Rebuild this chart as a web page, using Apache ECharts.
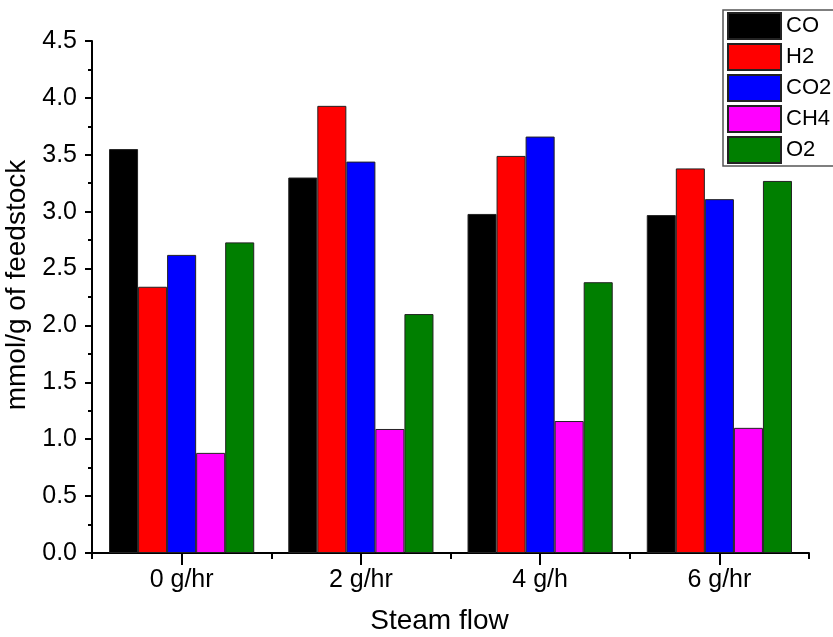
<!DOCTYPE html>
<html>
<head>
<meta charset="utf-8">
<script src="https://cdn.jsdelivr.net/npm/echarts@6/dist/echarts.min.js"></script>
<style>
html,body{margin:0;padding:0;background:#fff;}
#chart{width:833px;height:637px;}
</style>
</head>
<body>
<div id="chart"></div>
<script>
var categories = ['0 g/hr', '2 g/hr', '4 g/h', '6 g/hr'];
var seriesNames = ['CO', 'H2', 'CO2', 'CH4', 'O2'];
var CO  = [3.55, 3.30, 2.98, 2.97];
var H2  = [2.34, 3.93, 3.49, 3.38];
var CO2 = [2.62, 3.44, 3.66, 3.11];
var CH4 = [0.88, 1.09, 1.16, 1.10];
var O2  = [2.73, 2.10, 2.38, 3.27];
var seriesValues = [CO, H2, CO2, CH4, O2];
var colors = ['#000000', '#ff0000', '#0000ff', '#ff00ff', '#007f00'];
var yTicks = ['0.0','0.5','1.0','1.5','2.0','2.5','3.0','3.5','4.0','4.5'];

var FONT = '"Liberation Sans", Arial, sans-serif';
var chart = echarts.init(document.getElementById('chart'), null, {renderer: 'canvas'});

var series = seriesNames.map(function (n, i) {
  return {
    name: n,
    type: 'bar',
    xAxisIndex: 0,
    data: seriesValues[i],
    barGap: '0%',
    barCategoryGap: '19%',
    itemStyle: {color: colors[i], borderColor: '#222', borderWidth: 1},
    emphasis: {disabled: true}
  };
});

chart.setOption({
  animation: false,
  backgroundColor: '#fff',
  textStyle: {fontFamily: FONT},
  grid: {left: 92, right: 24, top: 41, bottom: 84, containLabel: false, outerBoundsMode: 'none'},
  legend: {
    data: seriesNames,
    left: 723, top: 10,
    orient: 'vertical',
    icon: 'rect',
    itemWidth: 53, itemHeight: 26, itemGap: 3,
    padding: [2, 20, 2, 4],
    borderColor: '#555', borderWidth: 1.5,
    backgroundColor: '#fff',
    textStyle: {fontFamily: FONT, fontSize: 22, lineHeight: 24, color: '#000'},
    selectedMode: false
  },
  xAxis: [{
    type: 'category',
    data: categories,
    position: 'bottom',
    axisLine: {show: true, lineStyle: {color: '#000', width: 2}},
    axisTick: {show: true, alignWithLabel: true, length: 12, lineStyle: {color: '#000', width: 2}},
    axisLabel: {fontFamily: FONT, fontSize: 25, color: '#000', margin: 15},
    splitLine: {show: false},
    name: 'Steam flow',
    nameLocation: 'middle',
    nameGap: 54,
    nameTextStyle: {fontFamily: FONT, fontSize: 28, color: '#000', padding: [0, 22, 0, 0]}
  }, {
    type: 'category',
    data: categories,
    position: 'bottom',
    axisLine: {show: false},
    axisTick: {show: true, alignWithLabel: false, length: 6, lineStyle: {color: '#000', width: 2}},
    axisLabel: {show: false},
    splitLine: {show: false}
  }],
  yAxis: {
    type: 'value',
    min: 0, max: 4.5, interval: 0.5,
    axisLine: {show: true, lineStyle: {color: '#000', width: 2}},
    axisTick: {show: true, length: 7, lineStyle: {color: '#000', width: 2}},
    minorTick: {show: true, splitNumber: 2, length: 4, lineStyle: {color: '#000', width: 2}},
    splitLine: {show: false},
    axisLabel: {
      fontFamily: FONT, fontSize: 25, color: '#000', margin: 15,
      formatter: function (v) { return yTicks[Math.round(v / 0.5)]; }
    },
    name: 'mmol/g of feedstock',
    nameLocation: 'middle',
    nameGap: 56,
    nameTextStyle: {fontFamily: FONT, fontSize: 28, color: '#000', padding: [0, 0, 0, 24]}
  },
  series: series
});
</script>
</body>
</html>
